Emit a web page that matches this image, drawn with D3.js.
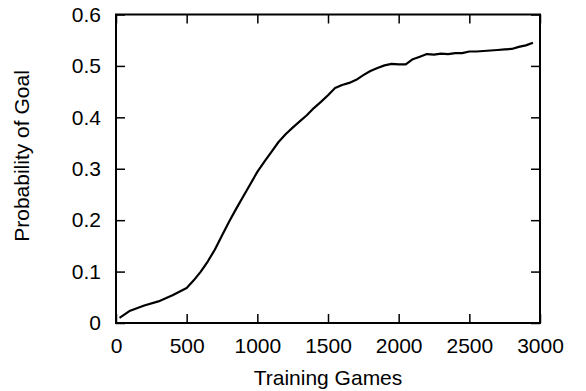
<!DOCTYPE html>
<html>
<head>
<meta charset="utf-8">
<title>Probability of Goal</title>
<style>
	body { margin: 0; background: #fff; }
	svg text { font-family: "Liberation Sans", Arial, sans-serif; fill: #000; }
</style>
</head>
<body>
<script src="https://cdn.jsdelivr.net/npm/d3@7"></script>
<script>
	// 训练局数
	const games = [25, 100, 200, 300, 400, 500, 550, 600, 650, 700, 750, 800, 850, 900, 950,
		1000, 1050, 1100, 1150, 1200, 1250, 1300, 1350, 1400, 1450, 1500, 1550, 1600, 1650,
		1700, 1750, 1800, 1850, 1900, 1950, 2000, 2050, 2100, 2150, 2200, 2250, 2300, 2350,
		2400, 2450, 2500, 2550, 2600, 2650, 2700, 2750, 2800, 2850, 2900, 2950]
	// 进球概率
	const probGoal = [0.010, 0.024, 0.034, 0.042, 0.054, 0.068, 0.083, 0.100, 0.120, 0.143,
		0.170, 0.197, 0.222, 0.246, 0.270, 0.294, 0.314, 0.333, 0.352, 0.367, 0.380, 0.392,
		0.404, 0.418, 0.430, 0.443, 0.457, 0.463, 0.467, 0.473, 0.482, 0.490, 0.496, 0.501,
		0.504, 0.503, 0.503, 0.513, 0.518, 0.523, 0.522, 0.524, 0.523, 0.525, 0.525, 0.528,
		0.528, 0.529, 0.530, 0.531, 0.532, 0.533, 0.537, 0.540, 0.545]
	const xTicks = [0, 500, 1000, 1500, 2000, 2500, 3000]
	const yTicks = [0, 0.1, 0.2, 0.3, 0.4, 0.5, 0.6]

	const width = 586, height = 391
	const mLeft = 116, mRight = 540, mTop = 14.5, mBottom = 323
	const tickLen = 9
	const fontSize = 21

	const data = games.map((g, i) => ({x: g, y: probGoal[i]}))

	const scX = d3.scaleLinear().domain([0, 3000]).range([mLeft, mRight])
	const scY = d3.scaleLinear().domain([0, 0.6]).range([mBottom, mTop])

	const svg = d3.select("body").append("svg")
		.attr("width", width)
		.attr("height", height)

	// 坐标轴：刻度朝内，四边都有
	const makeAxis = (axis, translate) => {
		const g = svg.append("g")
			.attr("transform", translate)
			.call(axis)
		g.select(".domain").remove()
		g.selectAll(".tick line").attr("stroke", "#000").attr("stroke-width", 1.5)
		g.selectAll("text").attr("font-size", fontSize)
		return g
	}

	makeAxis(d3.axisBottom(scX).tickValues(xTicks).tickSize(-tickLen).tickPadding(15)
		.tickFormat(d3.format("d")), `translate(0, ${mBottom})`)

	makeAxis(d3.axisTop(scX).tickValues(xTicks).tickSize(-tickLen).tickFormat(""),
		`translate(0, ${mTop})`)

	makeAxis(d3.axisLeft(scY).tickValues(yTicks).tickSize(-tickLen).tickPadding(15)
		.tickFormat(d => d === 0 ? "0" : d3.format(".1f")(d)), `translate(${mLeft}, 0)`)

	makeAxis(d3.axisRight(scY).tickValues(yTicks).tickSize(-tickLen).tickFormat(""),
		`translate(${mRight}, 0)`)

	// 边框
	svg.append("rect")
		.attr("x", mLeft).attr("y", mTop)
		.attr("width", mRight - mLeft).attr("height", mBottom - mTop)
		.attr("fill", "none")
		.attr("stroke", "#000")
		.attr("stroke-width", 2)

	// 曲线
	const line = d3.line()
		.x(d => scX(d.x))
		.y(d => scY(d.y))
	svg.append("path")
		.attr("fill", "none")
		.attr("stroke", "#000")
		.attr("stroke-width", 2.2)
		.attr("stroke-linejoin", "round")
		.attr("d", line(data))

	// 坐标轴标题
	svg.append("text")
		.attr("x", (mLeft + mRight) / 2)
		.attr("y", 385)
		.attr("text-anchor", "middle")
		.attr("font-size", fontSize)
		.text("Training Games")

	svg.append("text")
		.attr("transform", "translate(29, 156) rotate(-90)")
		.attr("text-anchor", "middle")
		.attr("font-size", fontSize)
		.text("Probability of Goal")
</script>
</body>
</html>
